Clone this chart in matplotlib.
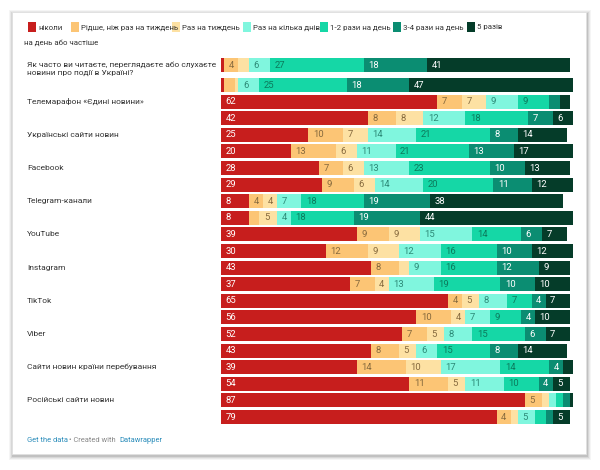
import numpy as np
import matplotlib.pyplot as plt
from matplotlib.patches import Rectangle

plt.rcParams['font.family'] = ['Roboto', 'DejaVu Sans']

categories = ["ніколи", "Рідше, ніж раз на тиждень", "Раз на тиждень",
              "Раз на кілька днів", "1-2 рази на день", "3-4 рази на день",
              "5 разів"]
colors = ["#c71e1d", "#fcc575", "#fde1a3", "#80f6de", "#15d7a6", "#0b8d72", "#053c29"]
text_colors = ["white", "#866a3e", "#866a3e", "#2d8a77", "#0c7a5c", "white", "white"]

groups = ["Як часто ви читаєте, переглядаєте або слухаєте\nновини про події в Україні?",
          "Телемарафон «Єдині новини»", "Українські сайти новин", "Facebook",
          "Telegram-канали", "YouTube", "Instagram", "TikTok", "Viber",
          "Сайти новин країни перебування", "Російські сайти новин"]

# two bars per group, values in %
never     = [1, 1, 62, 42, 25, 20, 28, 29, 8, 8, 39, 30, 43, 37, 65, 56, 52, 43, 39, 54, 87, 79]
rarely    = [4, 3, 7, 8, 10, 13, 7, 9, 4, 3, 9, 12, 8, 7, 4, 10, 7, 8, 14, 11, 5, 4]
weekly    = [3, 1, 7, 8, 7, 6, 6, 6, 4, 5, 9, 9, 3, 4, 5, 4, 5, 5, 10, 5, 2, 2]
few_days  = [6, 6, 9, 12, 14, 11, 13, 14, 7, 4, 15, 12, 9, 13, 8, 7, 8, 6, 17, 11, 2, 5]
daily_12  = [27, 25, 9, 18, 21, 21, 23, 20, 18, 18, 14, 16, 16, 19, 7, 9, 15, 15, 14, 10, 2, 3]
daily_34  = [18, 18, 3, 7, 8, 13, 10, 11, 19, 19, 6, 10, 12, 10, 4, 4, 6, 8, 4, 4, 2, 2]
daily_5   = [41, 47, 3, 6, 14, 17, 13, 12, 38, 44, 7, 12, 9, 10, 7, 10, 7, 14, 3, 5, 1, 5]

series = [never, rarely, weekly, few_days, daily_12, daily_34, daily_5]

W, H = 600, 470
fig = plt.figure(figsize=(W / 100, H / 100), dpi=100)
fig.patch.set_facecolor("white")

# card with soft shadow
bg = fig.add_axes([0, 0, 1, 1])
bg.set_xlim(0, W)
bg.set_ylim(H, 0)
bg.axis("off")
for i, a in enumerate([0.04, 0.05, 0.07, 0.10]):
    d = 4 - i
    bg.add_patch(Rectangle((12 - d + 1, 12 - d + 2), 574 + 2 * d, 442 + 2 * d,
                           facecolor="black", alpha=a, edgecolor="none"))
bg.add_patch(Rectangle((12, 12), 574, 442, facecolor="white", edgecolor="#e0e0e0", lw=0.6))

# legend
leg_x = [28, 71, 172, 243, 320, 393, 467]
for x, c, lab in zip(leg_x, colors, categories):
    bg.add_patch(Rectangle((x, 22), 8, 10, facecolor=c, edgecolor="none"))
    bg.text(x + 10, 27.5, lab, fontsize=5.7, color="#333333", va="center", ha="left")
bg.text(24, 42.5, "на день або частіше", fontsize=5.7, color="#333333", va="center", ha="left")

# footer
bg.text(27, 441, "Get the data", fontsize=5.4, color="#2a8cba", va="center")
bg.text(69, 441, "• Created with", fontsize=5.4, color="#888888", va="center")
bg.text(119, 441, "Datawrapper", fontsize=5.4, color="#2a8cba", va="center")

# bars
n = len(never)
pitch = 16.6
row1_px = 85.0
pos = np.arange(n, dtype=float)
pos[0] = -0.2
top_px, bot_px = 45, 440
x0_px, unit_px = 221, 3.49

ax = fig.add_axes([x0_px / W, 1 - bot_px / H, 100 * unit_px / W, (bot_px - top_px) / H])
ax.set_xlim(0, 100)
ax.set_ylim(1 + (bot_px - row1_px) / pitch, 1 - (row1_px - top_px) / pitch)
ax.axis("off")

left = np.zeros(n)
for vals, c, tc in zip(series, colors, text_colors):
    vals = np.array(vals, dtype=float)
    ax.barh(pos, vals, left=left, height=0.84, color=c, edgecolor="none", clip_on=False)
    for y, l, v in zip(pos, left, vals):
        if v >= 4:
            ax.text(l + 1.3, y, f"{int(v)}", fontsize=6.8, color=tc, va="center", ha="left")
    left += vals

# group labels
for g, lab in enumerate(groups):
    y = pos[2 * g]
    yy = y + 0.2 if "\n" in lab else y
    ax.text(-(x0_px - 27) / unit_px, yy, lab, fontsize=6.0, color="#333333",
            va="center", ha="left", linespacing=1.45, clip_on=False)

fig.savefig("out.png", dpi=100)
